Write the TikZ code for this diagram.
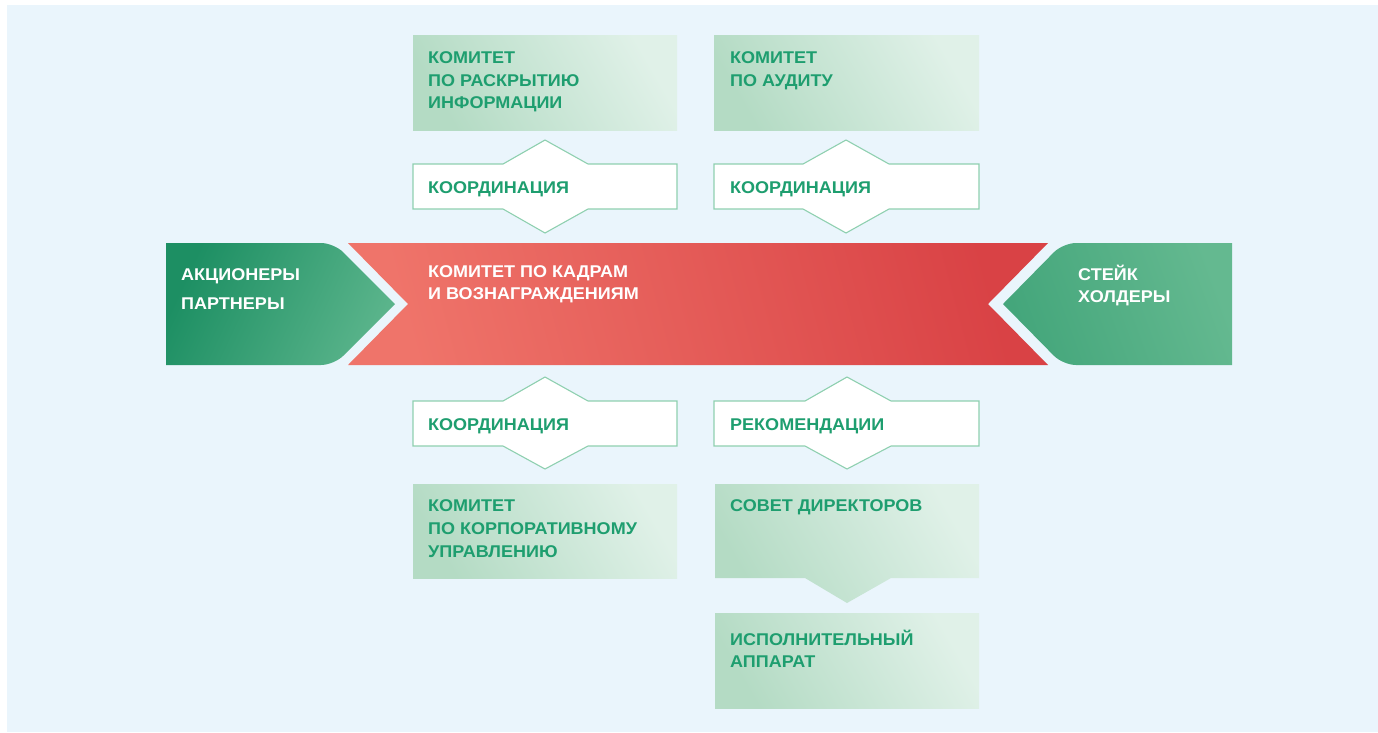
\documentclass[tikz,border=0pt]{standalone}
\usepackage{fontspec}
\setmainfont{Liberation Sans}
\newfontfamily\wideb[FakeStretch=1.06]{Liberation Sans Bold}
\definecolor{bgblue}{HTML}{EAF5FC}
\definecolor{txtgreen}{HTML}{1E9E6F}
\definecolor{boxA}{HTML}{B4DBC4}
\definecolor{boxB}{HTML}{E0F1E8}
\definecolor{edgegreen}{HTML}{8FD0B0}
\definecolor{redA}{HTML}{EF746A}
\definecolor{redB}{HTML}{D94245}
\definecolor{lgA}{HTML}{1D8F63}
\definecolor{lgB}{HTML}{5AB48B}
\definecolor{rgA}{HTML}{44A67B}
\definecolor{rgB}{HTML}{64B990}
\tikzset{
  lightbox/.style={left color=boxA, right color=boxB, shading angle=120, draw=none},
  coordbox/.style={fill=white, draw=edgegreen, line width=1.1pt, line join=miter},
  gtxt/.style={anchor=base west, inner sep=0pt, text=txtgreen, font=\wideb\fontsize{17}{20}\selectfont},
  wtxt/.style={anchor=base west, inner sep=0pt, text=white, font=\wideb\fontsize{17}{20}\selectfont},
}
\begin{document}
\begin{tikzpicture}[x=1pt,y=-1pt]
\useasboundingbox (0,0) rectangle (1378,732);
\fill[white] (0,0) rectangle (1378,732);
\fill[bgblue] (7,5) rectangle (1378,732);

% top light boxes
\path[lightbox] (413,35) rectangle (677,130);
\path[lightbox] (714,35) rectangle (979,130);
% bottom light boxes
\path[lightbox] (413,484) rectangle (677,578);
\path[lightbox] (715,484) -- (979,484) -- (979,578) -- (891,578) -- (847,603) -- (805,578) -- (715,578) -- cycle;
\path[lightbox] (715,613) rectangle (979,708);

% coordination connectors (upper)
\draw[coordbox] (413,164) -- (503,164) -- (545,140) -- (588,164) -- (677,164) -- (677,209) -- (588,209) -- (545,233) -- (503,209) -- (413,209) -- cycle;
\draw[coordbox] (714,164) -- (803,164) -- (846,140) -- (889,164) -- (979,164) -- (979,209) -- (889,209) -- (846,233) -- (803,209) -- (714,209) -- cycle;
% coordination connectors (lower)
\draw[coordbox] (413,401) -- (503,401) -- (545,377) -- (588,401) -- (677,401) -- (677,446) -- (588,446) -- (545,469) -- (503,446) -- (413,446) -- cycle;
\draw[coordbox] (714,401) -- (805,401) -- (847,377) -- (891,401) -- (979,401) -- (979,446) -- (891,446) -- (847,469) -- (805,446) -- (714,446) -- cycle;

% central red band
\path[left color=redA, right color=redB, shading angle=105] (348,243) -- (1048,243) -- (988,304) -- (1048,365) -- (348,365) -- (408,304) -- cycle;
% left green arrow
\path[left color=lgA, right color=lgB, shading angle=65] (166,243) [rounded corners=13pt] -- (334,243) [sharp corners] -- (395,304) [rounded corners=13pt] -- (334,365) [sharp corners] -- (166,365) -- cycle;
% right green arrow
\path[left color=rgA, right color=rgB, shading angle=110] (1232,243) [rounded corners=13pt] -- (1063,243) [sharp corners] -- (1003,304) [rounded corners=13pt] -- (1063,365) [sharp corners] -- (1232,365) -- cycle;

% texts
\node[gtxt] (t1a) at (428,63) {КОМИТЕТ};
\node[gtxt] (t1b) at (428,86) {ПО РАСКРЫТИЮ};
\node[gtxt] (t1c) at (428,108) {ИНФОРМАЦИИ};
\node[gtxt] (t2a) at (730,63) {КОМИТЕТ};
\node[gtxt] (t2b) at (730,86) {ПО АУДИТУ};
\node[gtxt] (c1) at (428,193) {КООРДИНАЦИЯ};
\node[gtxt] (c2) at (730,193) {КООРДИНАЦИЯ};
\node[gtxt] (c3) at (428,430) {КООРДИНАЦИЯ};
\node[gtxt] (c4) at (730,430) {РЕКОМЕНДАЦИИ};
\node[wtxt] (ra) at (428,277) {КОМИТЕТ ПО КАДРАМ};
\node[wtxt] (rb) at (428,299) {И ВОЗНАГРАЖДЕНИЯМ};
\node[wtxt] (la) at (181,280) {АКЦИОНЕРЫ};
\node[wtxt] (lb) at (181,309) {ПАРТНЕРЫ};
\node[wtxt] (sa) at (1078,280) {СТЕЙК};
\node[wtxt] (sb) at (1078,302) {ХОЛДЕРЫ};
\node[gtxt] (b1a) at (428,511) {КОМИТЕТ};
\node[gtxt] (b1b) at (428,534) {ПО КОРПОРАТИВНОМУ};
\node[gtxt] (b1c) at (428,557) {УПРАВЛЕНИЮ};
\node[gtxt] (sd) at (730,511) {СОВЕТ ДИРЕКТОРОВ};
\node[gtxt] (ia) at (730,645) {ИСПОЛНИТЕЛЬНЫЙ};
\node[gtxt] (ib) at (730,667) {АППАРАТ};
\end{tikzpicture}
\end{document}
